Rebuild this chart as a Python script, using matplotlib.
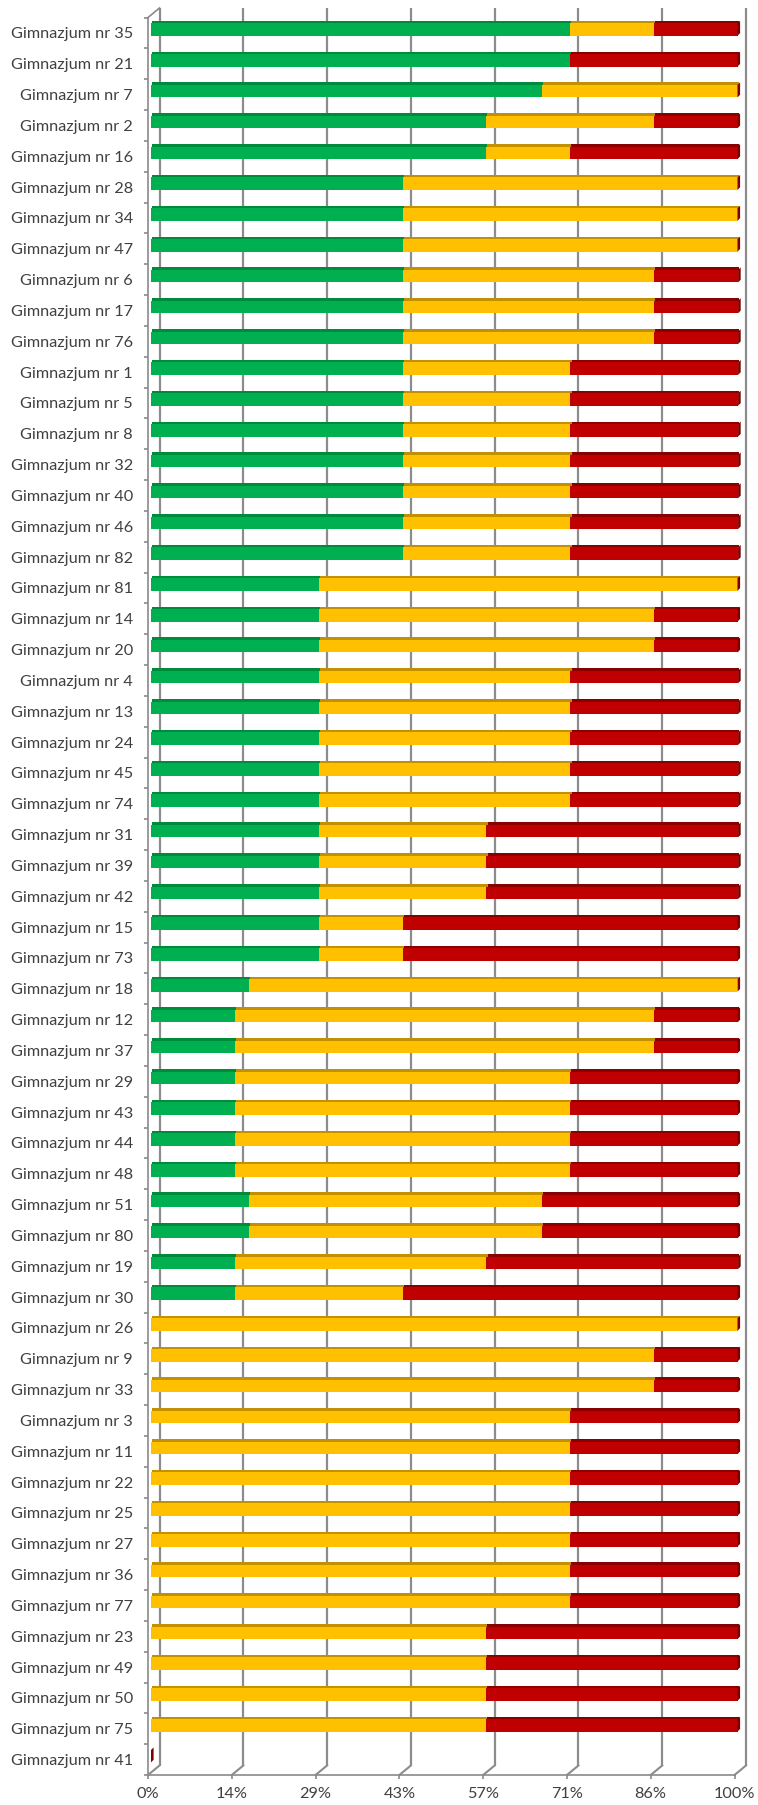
import matplotlib
matplotlib.use("Agg")
import matplotlib.pyplot as plt
import matplotlib.transforms as mtransforms
from matplotlib.patches import Polygon
import numpy as np

# ---------------- data ----------------
schools = [35, 21, 7, 2, 16, 28, 34, 47, 6, 17, 76, 1, 5, 8, 32, 40, 46, 82,
           81, 14, 20, 4, 13, 24, 45, 74, 31, 39, 42, 15, 73, 18, 12, 37, 29,
           43, 44, 48, 51, 80, 19, 30, 26, 9, 33, 3, 11, 22, 25, 27, 36, 77,
           23, 49, 50, 75, 41]
labels = [f"Gimnazjum nr {s}" for s in schools]

green = [71.4, 71.4, 66.7, 57.1, 57.1, 42.9, 42.9, 42.9, 42.9, 42.9, 42.9,
         42.9, 42.9, 42.9, 42.9, 42.9, 42.9, 42.9,
         28.6, 28.6, 28.6, 28.6, 28.6, 28.6, 28.6, 28.6, 28.6, 28.6, 28.6,
         28.6, 28.6, 16.7, 14.3, 14.3, 14.3, 14.3, 14.3, 14.3, 16.7, 16.7,
         14.3, 14.3, 0, 0, 0, 0, 0, 0, 0, 0, 0, 0, 0, 0, 0, 0, 0]
yellow = [14.3, 0, 33.3, 28.6, 14.3, 57.1, 57.1, 57.1, 42.9, 42.9, 42.9,
          28.6, 28.6, 28.6, 28.6, 28.6, 28.6, 28.6,
          71.4, 57.1, 57.1, 42.9, 42.9, 42.9, 42.9, 42.9, 28.6, 28.6, 28.6,
          14.3, 14.3, 83.3, 71.4, 71.4, 57.1, 57.1, 57.1, 57.1, 50.0, 50.0,
          42.9, 28.6, 100, 85.7, 85.7, 71.4, 71.4, 71.4, 71.4, 71.4, 71.4,
          71.4, 57.1, 57.1, 57.1, 57.1, 0]
red = [14.3, 28.6, 0, 14.3, 28.6, 0, 0, 0, 14.3, 14.3, 14.3,
       28.6, 28.6, 28.6, 28.6, 28.6, 28.6, 28.6,
       0, 14.3, 14.3, 28.6, 28.6, 28.6, 28.6, 28.6, 42.9, 42.9, 42.9,
       57.1, 57.1, 0, 14.3, 14.3, 28.6, 28.6, 28.6, 28.6, 33.3, 33.3,
       42.9, 57.1, 0, 14.3, 14.3, 28.6, 28.6, 28.6, 28.6, 28.6, 28.6,
       28.6, 42.9, 42.9, 42.9, 42.9, 0]
tick_values = [0, 100/7, 200/7, 300/7, 400/7, 500/7, 600/7, 100]
tick_labels = ["0%", "14%", "29%", "43%", "57%", "71%", "86%", "100%"]

# ---------------- style ----------------
FONT = ["Lato", "DejaVu Sans"]
plt.rcParams["font.family"] = FONT
TEXT = "#404040"
GRID = "#8c8c8c"
AXC = "#8a8a8a"
front_cols = ["#00B050", "#FFC000", "#C00000"]
top_cols = ["#008A3C", "#C29000", "#880000"]
CAP = "#7E0000"

W, H, DPI = 758, 1805, 100
fig = plt.figure(figsize=(W / DPI, H / DPI), dpi=DPI)
L, R, T, B = 148, 734.5, 17.5, 1775
ax = fig.add_axes([L / W, 1 - B / H, (R - L) / W, (B - T) / H])
n = len(labels)
ax.set_xlim(0, 100)
ax.set_ylim(n - 0.5, -0.5)
pitch = (B - T) / n


def off(dx, dy):
    return mtransforms.ScaledTranslation(dx / DPI, dy / DPI, fig.dpi_scale_trans)


BDX, BDY = 3.0, 3.4      # bar plane offset (px, up positive)
GDX, GDY = 11.5, 9.5     # back wall offset
hf = 12.4 / pitch        # front face height
ht = 2.6 / pitch         # top face height
y = np.arange(n)

g = np.array(green, float)
yl = np.array(yellow, float)
r = np.array(red, float)
lefts = [np.zeros(n), g, g + yl]
widths = [g, yl, r]

# back wall gridlines
ident = mtransforms.IdentityTransform()
for xv in tick_values:
    ax.plot([xv, xv], [-0.5, n - 0.5], color=GRID, lw=1.6,
            transform=ax.transData + off(GDX, GDY), clip_on=False, zorder=1,
            solid_capstyle="butt")
    p0 = ax.transData.transform((xv, n - 0.5))
    ax.plot([p0[0], p0[0] + GDX], [p0[1], p0[1] + GDY], color=GRID, lw=1.5,
            transform=ident, clip_on=False, zorder=1)
# left wall top edge
p0 = ax.transData.transform((0, -0.5))
ax.plot([p0[0], p0[0] + GDX], [p0[1], p0[1] + GDY], color=AXC, lw=1.2,
        transform=ident, clip_on=False, zorder=1)

# bars
tr_bar = ax.transData + off(BDX, BDY)
tr_top = ax.transData + off(BDX + 1.2, BDY)
for k in range(3):
    ax.barh(y - hf / 2 - ht / 2, widths[k], left=lefts[k], height=ht,
            color=top_cols[k], linewidth=0, transform=tr_top, zorder=2,
            clip_on=False)
    ax.barh(y, widths[k], left=lefts[k], height=hf, color=front_cols[k],
            linewidth=0, transform=tr_bar, zorder=3, clip_on=False)

# end caps (right faces)
totals = g + yl + r
for i in range(n):
    pb = tr_bar.transform((totals[i], y[i] + hf / 2))
    pt = tr_bar.transform((totals[i], y[i] - hf / 2))
    verts = [pb, pt, (pt[0] + 2.6, pt[1] + 2.6), (pb[0] + 2.6, pb[1] + 2.6)]
    ax.add_patch(Polygon(verts, closed=True, facecolor=CAP, edgecolor="none",
                         transform=ident, clip_on=False, zorder=4))

# axes / ticks
for s in ["top", "right"]:
    ax.spines[s].set_visible(False)
for s in ["left", "bottom"]:
    ax.spines[s].set_color(AXC)
    ax.spines[s].set_linewidth(1.2)

ax.set_yticks(y)
ax.set_yticklabels(labels)
ax.set_yticks(np.arange(-0.5, n, 1.0), minor=True)
ax.tick_params(axis="y", which="major", length=0, pad=10.8, labelsize=11.7,
               labelcolor=TEXT)
ax.tick_params(axis="y", which="minor", length=3, width=1.2, color=AXC,
               direction="out")
ax.set_xticks(tick_values)
ax.set_xticklabels(tick_labels)
ax.tick_params(axis="x", which="major", length=3, width=1.2, color=AXC,
               direction="out", pad=5.5, labelsize=11.7, labelcolor=TEXT)
ax.set_facecolor("none")

fig.savefig("out.png", dpi=DPI, facecolor="white")
